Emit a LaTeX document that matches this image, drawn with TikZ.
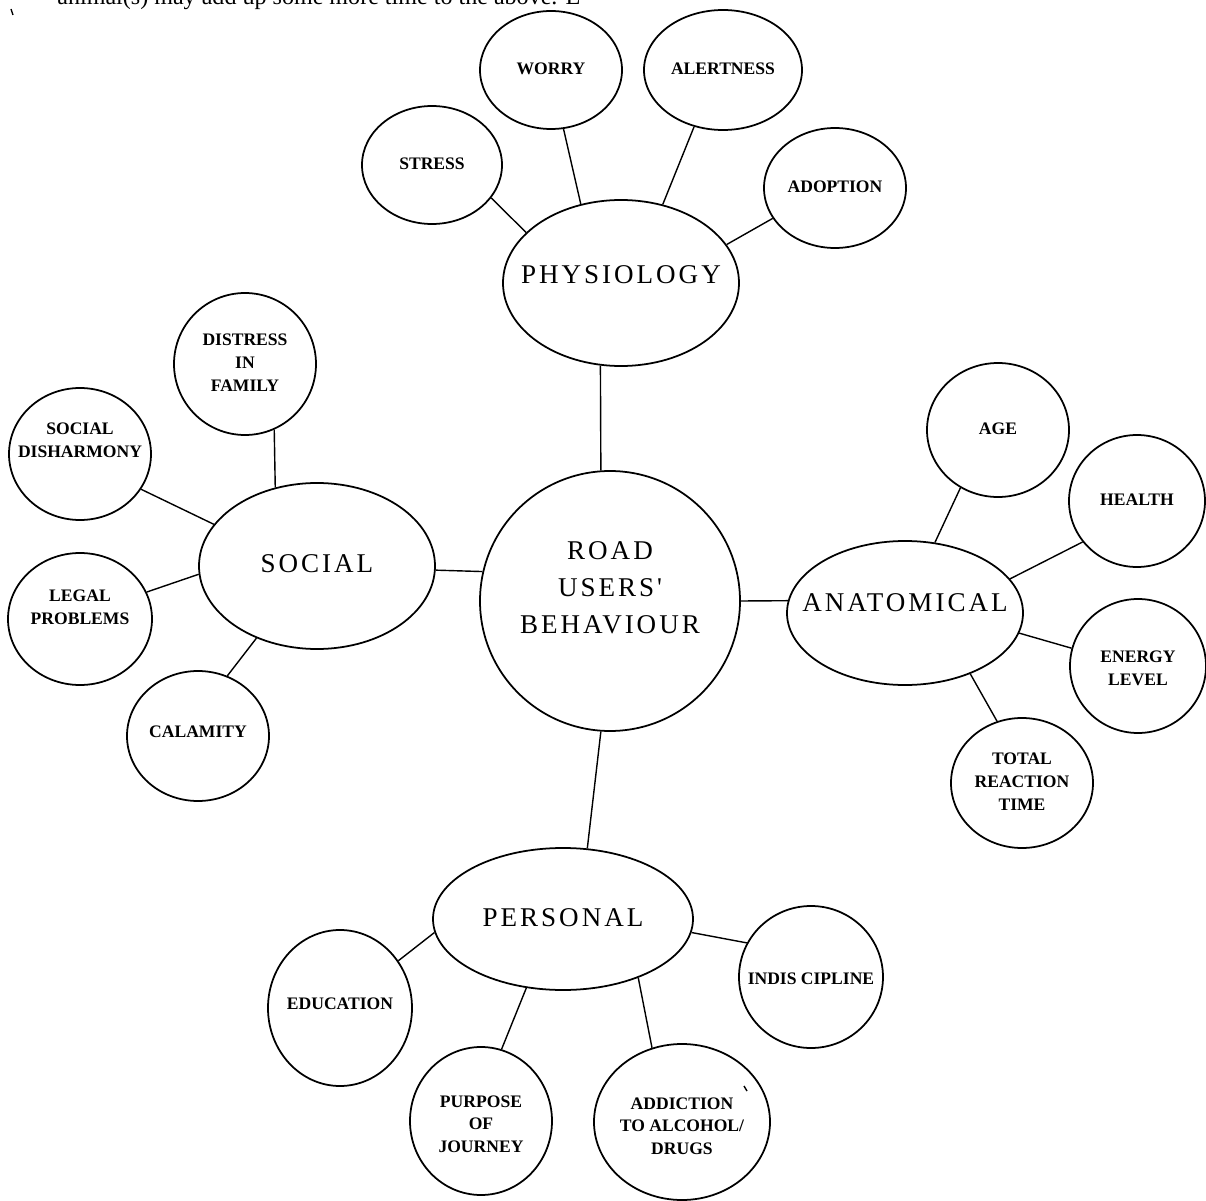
\documentclass[tikz,border=0pt]{standalone}
\usepackage{fontspec}
\setmainfont{Liberation Serif}
\newfontfamily\hubfont[LetterSpace=11]{Liberation Serif}
\usepackage{tikz}
\usetikzlibrary{shapes.geometric}
\newcommand{\bubtext}[2][0pt]{\raisebox{\dimexpr #1-0.25em\relax}[0pt][0pt]{\makebox[0pt]{\begin{tabular}{@{}c@{}}#2\end{tabular}}}}

\begin{document}
\begin{tikzpicture}[x=0.2mm, y=-0.2mm,
		hub/.style={draw, ellipse, inner sep=0pt, line width=1pt, font=\hubfont\fontsize{15.4}{21}\selectfont},
		leaf/.style={draw, ellipse, inner sep=0pt, line width=1pt, font=\bfseries\fontsize{10}{13}\selectfont},
		rad/.style 2 args={minimum width=#1*0.4mm, minimum height=#2*0.4mm},
		link/.style={line width=0.8pt}]
		\useasboundingbox (0,0) rectangle (1206,1201);
		\clip (0,0) rectangle (1206,1201);
		\node[anchor=base west, inner sep=0pt, font=\fontsize{13.7}{16}\selectfont] (note) at (57,5) {animal(s) may add up some more time to the above. E};
		\draw[line width=0.8pt] (11,9) -- (13,15);

		\node[hub, rad={130}{130}] (road) at (610,601) {\bubtext[7pt]{ROAD\\USERS'\\BEHAVIOUR}};
		\node[hub, rad={118}{83}] (phys) at (621,283) {\bubtext[4pt]{PHYSIOLOGY}};
		\node[hub, rad={118}{83}] (social) at (317,566) {\bubtext[1pt]{SOCIAL}};
		\node[hub, rad={118}{72}] (anat) at (905,613) {\bubtext[5.5pt]{ANATOMICAL}};
		\node[hub, rad={130}{71}] (pers) at (563,919) {\bubtext{PERSONAL}};

		\node[leaf, rad={70}{59}] (stress) at (432,165) {\bubtext{STRESS}};
		\node[leaf, rad={71}{59}] (worry) at (551,70) {\bubtext{WORRY}};
		\node[leaf, rad={79}{60}] (alert) at (723,70) {\bubtext{ALERTNESS}};
		\node[leaf, rad={71}{60}] (adopt) at (835,188) {\bubtext{ADOPTION}};

		\node[leaf, rad={71}{71}] (distress) at (245,364) {\bubtext{DISTRESS\\IN\\FAMILY}};
		\node[leaf, rad={71}{66}] (disharm) at (80,454) {\bubtext[7pt]{SOCIAL\\DISHARMONY}};
		\node[leaf, rad={72}{66}] (legal) at (80,619) {\bubtext[6pt]{LEGAL\\PROBLEMS}};
		\node[leaf, rad={71}{65}] (calam) at (198,736) {\bubtext[2pt]{CALAMITY}};

		\node[leaf, rad={71}{67}] (age) at (998,430) {\bubtext{AGE}};
		\node[leaf, rad={68}{66}] (health) at (1137,501) {\bubtext{HEALTH}};
		\node[leaf, rad={68}{67}] (energy) at (1138,666) {\bubtext[-2pt]{ENERGY\\LEVEL}};
		\node[leaf, rad={71}{65}] (total) at (1022,783) {\bubtext{TOTAL\\REACTION\\TIME}};

		\node[leaf, rad={72}{78}] (educ) at (340,1008) {\bubtext[2pt]{EDUCATION}};
		\node[leaf, rad={72}{71}] (indis) at (811,977) {\bubtext[-1.5pt]{INDIS CIPLINE}};
		\node[leaf, rad={71}{74}] (purpose) at (481,1121) {\bubtext[-2.5pt]{PURPOSE\\OF\\JOURNEY}};
		\node[leaf, rad={88}{78}] (addict) at (682,1122) {\bubtext[-3pt]{ADDICTION\\TO ALCOHOL/\\DRUGS}};
		\draw[line width=0.8pt] (744,1086) -- (747,1091);

		\draw[link] (phys.256) -- (road.94);
		\draw[link] (social.358) -- (road.167);
		\draw[link] (road.0) -- (anat.174);
		\draw[link] (road.266) -- (pers.71);

		\draw[link] (stress.331) -- (phys.152);
		\draw[link] (worry.282) -- (phys.117);
		\draw[link] (alert.243) -- (phys.62);
		\draw[link] (adopt.206) -- (phys.20);

		\draw[link] (distress.294) -- (social.118);
		\draw[link] (disharm.330) -- (social.158);
		\draw[link] (legal.22) -- (social.184);
		\draw[link] (calam.64) -- (social.230);

		\draw[link] (age.237) -- (anat.67);
		\draw[link] (health.217) -- (anat.18);
		\draw[link] (energy.165) -- (anat.350);
		\draw[link] (total.112) -- (anat.317);

		\draw[link] (educ.39) -- (pers.186);
		\draw[link] (pers.242) -- (purpose.74);
		\draw[link] (pers.322) -- (addict.112);
		\draw[link] (pers.354) -- (indis.152);
	\end{tikzpicture}
\end{document}
